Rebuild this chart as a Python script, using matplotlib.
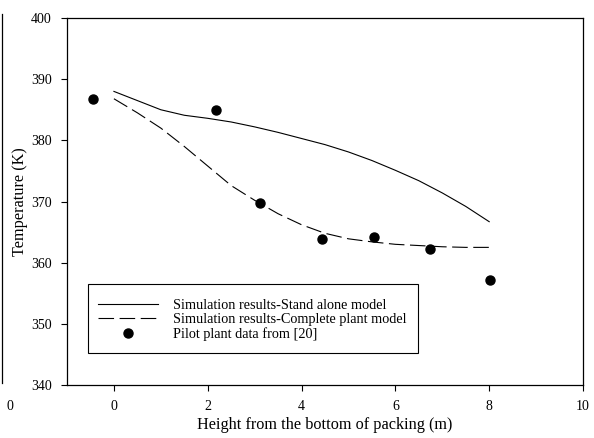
import matplotlib
matplotlib.use("Agg")
import matplotlib.pyplot as plt
from matplotlib.lines import Line2D
from matplotlib.patches import Rectangle

plt.rcParams['font.family'] = ['Liberation Serif', 'DejaVu Serif']

# ---- data ----
x_model = [0, 0.5, 1, 1.5, 2, 2.5, 3, 3.5, 4, 4.5, 5, 5.5, 6, 6.5, 7, 7.5, 8]
t_stand_alone = [388.0, 386.5, 385.0, 384.1, 383.6, 383.0, 382.2, 381.3, 380.3,
                 379.3, 378.1, 376.7, 375.1, 373.4, 371.4, 369.2, 366.7]
t_complete = [386.8, 384.5, 382.0, 379.0, 375.8, 372.6, 370.2, 368.0, 366.2,
              364.8, 363.9, 363.4, 363.0, 362.8, 362.6, 362.5, 362.5]

x_pilot = [-0.45, 2.18, 3.11, 4.44, 5.55, 6.74, 8.01]
t_pilot = [386.8, 384.9, 369.7, 363.8, 364.25, 362.2, 357.1]

x_ticks = [0, 2, 4, 6, 8, 10]
y_ticks = [340, 350, 360, 370, 380, 390, 400]

fig = plt.figure(figsize=(5.94, 4.38), dpi=100)
ax = fig.add_axes([0.1128, 0.121, 0.8687, 0.8379])

ax.plot(x_model, t_stand_alone, color="black", lw=0.8,
        label="Simulation results-Stand alone model")
ax.plot(x_model, t_complete, color="black", lw=0.8, ls=(0, (14, 5)),
        label="Simulation results-Complete plant model")
ax.plot(x_pilot, t_pilot, "o", color="black", ms=6.5, ls="none",
        label="Pilot plant data from [20]")

ax.set_xlim(-1, 10)
ax.set_ylim(340, 400)
ax.set_xticks(x_ticks)
ax.set_yticks(y_ticks)
ax.tick_params(direction="out", length=4, width=0.8, labelsize=10, pad=7)
for s in ax.spines.values():
    s.set_linewidth(0.9)

ax.set_xlabel("Height from the bottom of packing (m)", fontsize=11.7, labelpad=3)
ax.set_ylabel("Temperature (K)", fontsize=11.7, labelpad=2)

# legend entries without frame, box drawn separately (wider on the right)
leg = ax.legend(loc="upper left", bbox_to_anchor=(0.0601, 0.2357),
                borderaxespad=0, frameon=False, fontsize=10.3,
                handlelength=4.2, borderpad=0, labelspacing=0.1,
                handletextpad=1.05)
ax.add_patch(Rectangle((0.0407, 0.0872), 0.6393, 0.188, transform=ax.transAxes,
                       fill=False, edgecolor="black", lw=0.8, zorder=4))

# remnants of the neighbouring panel on the left edge
fig.add_artist(Line2D([0.004, 0.004], [0.126, 0.968], color="black", lw=0.9))
fig.text(0.017, 0.073, "0", fontsize=10, ha="center", va="center")

fig.savefig("out.png", dpi=100)
